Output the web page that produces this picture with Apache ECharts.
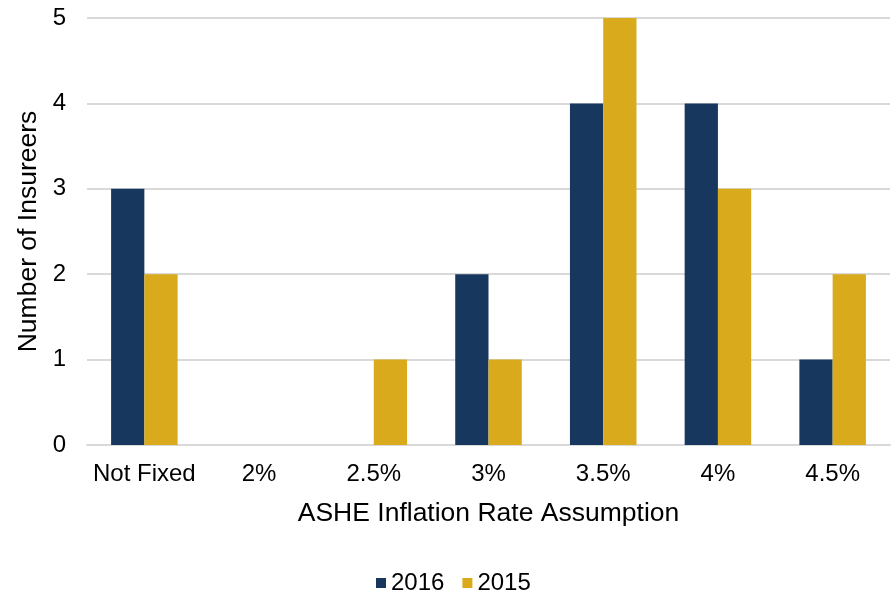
<!DOCTYPE html>
<html>
<head>
<meta charset="utf-8">
<script src="https://cdn.jsdelivr.net/npm/echarts@6/dist/echarts.min.js"></script>
<style>html,body{margin:0;padding:0;background:#fff}#c{width:893px;height:590px}</style>
</head>
<body>
<div id="c"></div>
<script>
var categories = ['Not Fixed', '2%', '2.5%', '3%', '3.5%', '4%', '4.5%'];
var values2016 = [3, 0, 0, 2, 4, 4, 1];
var values2015 = [2, 0, 1, 1, 5, 3, 2];
var seriesNames = ['2016', '2015'];
var yTicks = { min: 0, max: 5, interval: 1 };

var chart = echarts.init(document.getElementById('c'));
var font = 'Liberation Sans, Arial, sans-serif';
chart.setOption({
  animation: false,
  backgroundColor: '#fff',
  textStyle: { fontFamily: font },
  grid: { left: 87, right: 3, top: 18, bottom: 145, containLabel: false },
  legend: {
    data: seriesNames,
    top: 566,
    left: 371,
    itemWidth: 10,
    itemHeight: 10,
    itemGap: 18,
    icon: 'rect',
    textStyle: { fontSize: 24, color: '#000', fontFamily: font }
  },
  xAxis: {
    type: 'category',
    data: categories,
    name: 'ASHE Inflation Rate Assumption',
    nameLocation: 'middle',
    nameGap: 55,
    nameTextStyle: { fontSize: 26.5, color: '#000', fontFamily: font },
    axisLine: { lineStyle: { color: '#D9D9D9', width: 2 } },
    axisTick: { show: false },
    axisLabel: { interval: 0, fontSize: 24, color: '#000', margin: 17, fontFamily: font }
  },
  yAxis: {
    type: 'value',
    min: yTicks.min,
    max: yTicks.max,
    interval: yTicks.interval,
    name: 'Number of Insureers',
    nameLocation: 'middle',
    nameGap: 45,
    nameTextStyle: { fontSize: 26.5, color: '#000', fontFamily: font },
    axisLine: { show: false },
    axisTick: { show: false },
    axisLabel: { fontSize: 24, color: '#000', margin: 21, fontFamily: font },
    splitLine: { lineStyle: { color: '#D9D9D9', width: 2 } }
  },
  series: [
    { name: seriesNames[0], type: 'bar', data: values2016, barGap: 0, barCategoryGap: '42%', itemStyle: { color: '#17375E' } },
    { name: seriesNames[1], type: 'bar', data: values2015, barGap: 0, barCategoryGap: '42%', itemStyle: { color: '#D9AA1B' } }
  ]
});
</script>
</body>
</html>
